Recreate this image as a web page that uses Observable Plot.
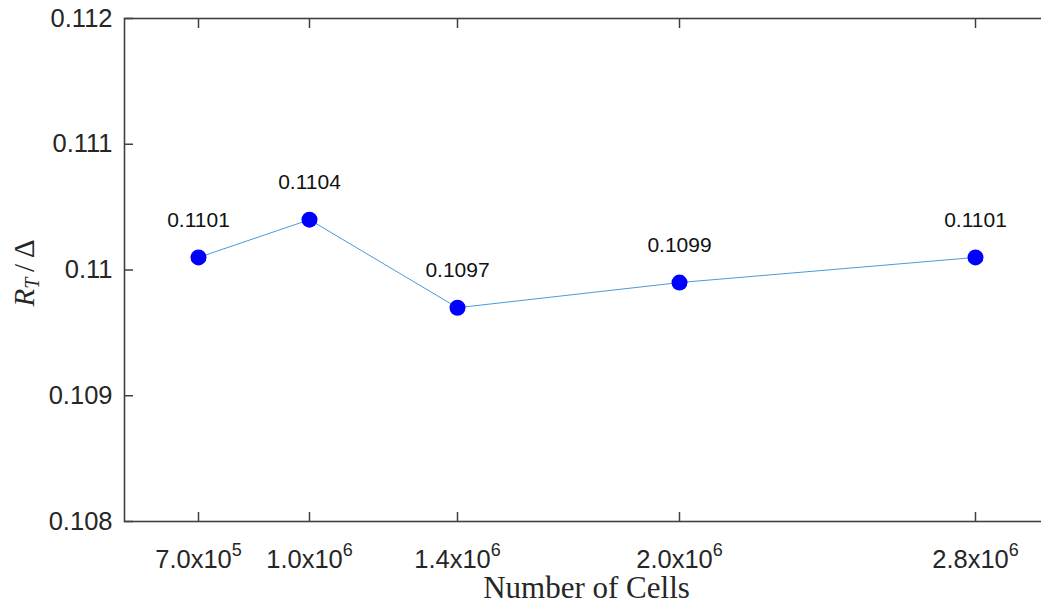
<!DOCTYPE html>
<html><head><meta charset="utf-8">
<script src="https://cdn.jsdelivr.net/npm/d3@7"></script>
<script src="https://cdn.jsdelivr.net/npm/@observablehq/plot@0.6"></script>
<style>body{margin:0;background:#fff;} #chart svg{display:block;}</style>
</head><body><div id="chart"></div>
<script>
const cells = [7e5, 1e6, 1.4e6, 2e6, 2.8e6];
const ratio = [0.1101, 0.1104, 0.1097, 0.1099, 0.1101];
const pointLabels = ["0.1101", "0.1104", "0.1097", "0.1099", "0.1101"];
const yTicks = [0.108, 0.109, 0.110, 0.111, 0.112];
const yTickLabels = ["0.108", "0.109", "0.11", "0.111", "0.112"];
const xTickMantissa = ["7.0", "1.0", "1.4", "2.0", "2.8"];
const xTickExponent = ["5", "6", "6", "6", "6"];

const data = cells.map((c, i) => ({cells: c, ratio: ratio[i], label: pointLabels[i]}));
const axisColor = "#404040";

const plot = Plot.plot({
  width: 1041, height: 606,
  marginLeft: 124, marginRight: -8, marginTop: 18, marginBottom: 85,
  style: {fontFamily: "'Liberation Sans', Arial, sans-serif", fontSize: "25px", color: axisColor, background: "#fff"},
  x: {domain: [5e5, 3e6]},
  y: {domain: [0.108, 0.112]},
  marks: [
    Plot.frame({stroke: axisColor, strokeWidth: 1.6}),
    Plot.axisY(yTicks, {anchor: "left", tickSize: -9, tickPadding: 21, strokeWidth: 1.5,
      tickFormat: d => yTickLabels[yTicks.indexOf(d)], label: null, fontSize: 25.5, fill: "#262626"}),
    Plot.axisY(yTicks, {anchor: "right", tickSize: -9, strokeWidth: 1.5, tickFormat: () => "", label: null}),
    Plot.axisX(cells, {anchor: "top", tickSize: -9, strokeWidth: 1.5, tickFormat: () => "", label: null}),
    Plot.axisX(cells, {anchor: "bottom", tickSize: -9, tickPadding: 37, strokeWidth: 1.5,
      tickFormat: d => xTickMantissa[cells.indexOf(d)] + "x10", label: null, fontSize: 25.5, fill: "#262626"}),
    Plot.line(data, {x: "cells", y: "ratio", stroke: "#4a9ad8", strokeWidth: 1}),
    Plot.dot(data, {x: "cells", y: "ratio", r: 8, fill: "#0000ff", stroke: "none"}),
    Plot.text(data, {x: "cells", y: "ratio", text: "label", dy: -37, fontSize: 21, fill: "#111"})
  ]
});
document.getElementById("chart").appendChild(plot);

const svg = d3.select(plot);
// superscript exponents on x tick labels
svg.selectAll('g[aria-label="x-axis tick label"] text').each(function() {
  const t = d3.select(this);
  const txt = t.text();
  const idx = xTickMantissa.findIndex(m => txt === m + "x10");
  if (idx >= 0) {
    t.append("tspan").attr("font-size", "18px").attr("dy", "-12").text(xTickExponent[idx]);
  }
});

// axis titles
const serif = "'Liberation Serif', 'DejaVu Serif', serif";
svg.append("text")
  .attr("x", (124 + 1049) / 2).attr("y", 598)
  .attr("text-anchor", "middle")
  .attr("font-family", serif).attr("font-size", "31px").attr("fill", "#262626")
  .text("Number of Cells");

const yl = svg.append("text")
  .attr("transform", "translate(34,273) rotate(-90)")
  .attr("text-anchor", "middle")
  .attr("font-family", serif).attr("font-size", "29px").attr("fill", "#262626");
yl.append("tspan").attr("font-style", "italic").text("R");
yl.append("tspan").attr("font-style", "italic").attr("font-size", "20px").attr("dy", "5").text("T");
yl.append("tspan").attr("dy", "-5").text("\u2009/\u2009\u0394");
</script>
</body></html>
